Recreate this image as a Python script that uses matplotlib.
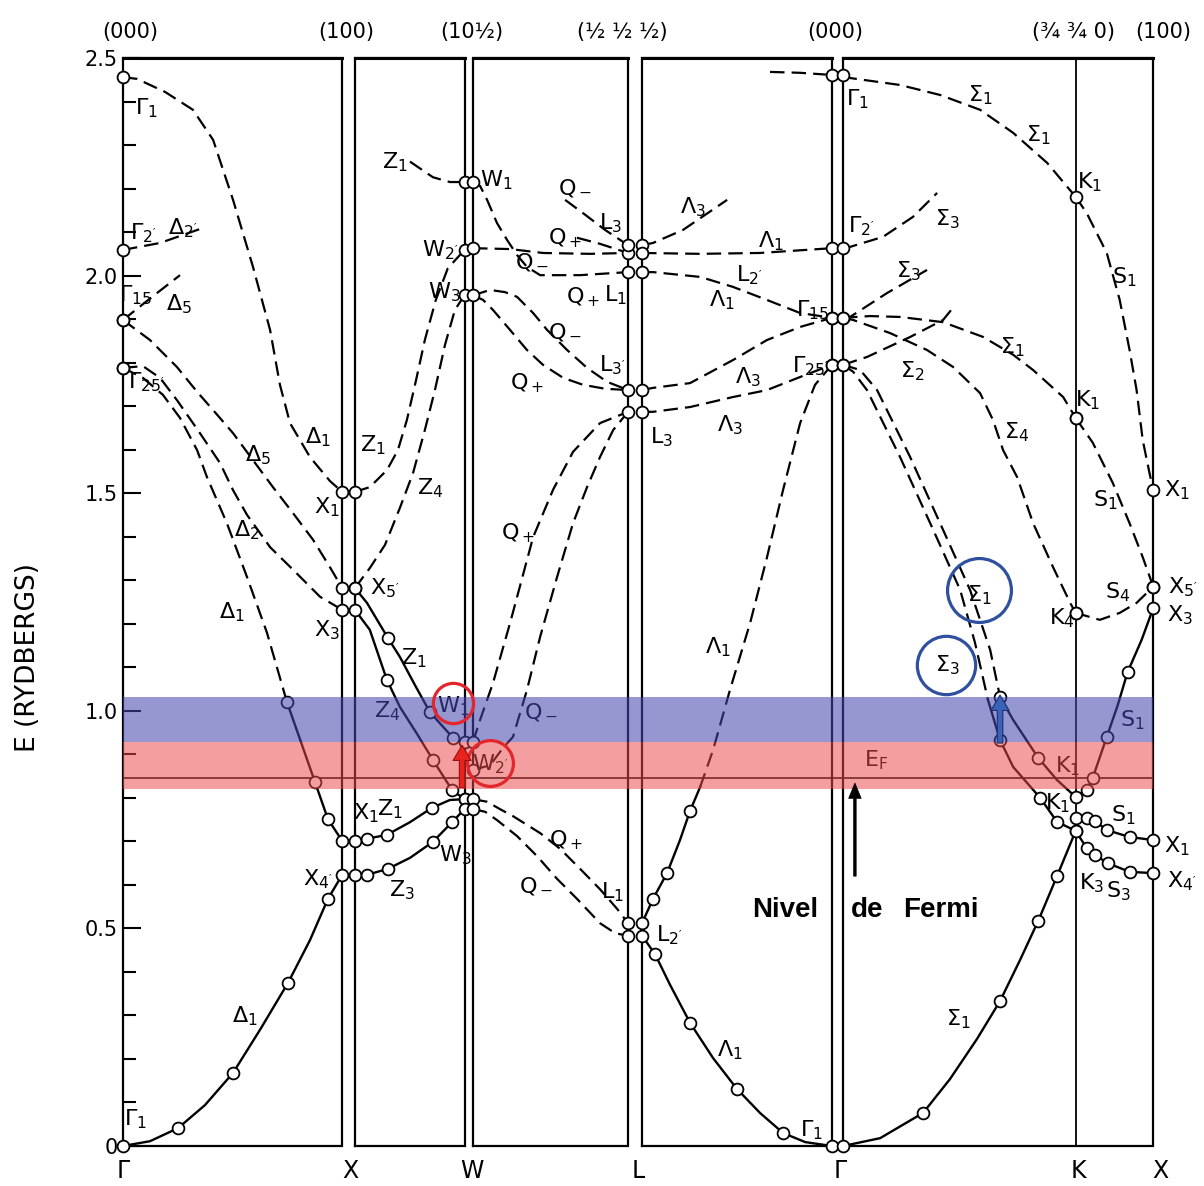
import numpy as np
import matplotlib
matplotlib.use('Agg')
import matplotlib.pyplot as plt

plt.rcParams['font.family'] = ['DejaVu Sans']
plt.rcParams['mathtext.default'] = 'regular'

# k-path panels (units of 2pi/a): Gamma-X, X-W, W-L, L-Gamma, Gamma-K-X
panel_start = [0.0, 1.058, 1.597, 2.368, 3.285]
panel_len = [1.0, 0.5, 0.707, 0.866, 1.415]
k_K = 1.061

# energy ranges (Ry)
band_blue = (0.928, 1.032)
band_red = (0.820, 0.928)
e_fermi = 0.846

# ---- Gamma - X ----
g_d1_hi = ([0, 0.064, 0.192, 0.319, 0.411, 0.502, 0.593, 0.671, 0.716, 0.762, 0.853, 0.944, 1.0],
           [2.456, 2.452, 2.422, 2.381, 2.312, 2.174, 2.020, 1.875, 1.749, 1.661, 1.583, 1.528, 1.503])
g_d2p = ([0, 0.169, 0.351], [2.059, 2.075, 2.107])
g_d5_stub = ([0, 0.13, 0.26], [1.898, 1.95, 2.001])
g_d5 = ([0, 0.123, 0.246, 0.338, 0.411, 0.502, 0.593, 0.684, 0.776, 0.867, 0.944, 1.0],
        [1.898, 1.852, 1.790, 1.733, 1.691, 1.638, 1.576, 1.514, 1.454, 1.393, 1.330, 1.282])
g_d2 = ([0, 0.091, 0.169, 0.246, 0.351, 0.443, 0.502, 0.566, 0.671, 0.776, 0.899, 1.0],
        [1.788, 1.792, 1.765, 1.714, 1.638, 1.569, 1.507, 1.450, 1.376, 1.324, 1.262, 1.232])
g_d1_d = ([0, 0.091, 0.182, 0.260, 0.338, 0.383, 0.474, 0.566, 0.657, 0.748],
          [1.788, 1.765, 1.726, 1.673, 1.599, 1.537, 1.431, 1.307, 1.179, 1.020])
g_d1_s = ([0.748, 0.876, 0.935, 1.0], [1.020, 0.836, 0.751, 0.701])
g_d1_lo = ([0, 0.123, 0.251, 0.374, 0.502, 0.625, 0.753, 0.853, 0.935, 1.0],
           [0, 0.011, 0.041, 0.094, 0.168, 0.267, 0.375, 0.473, 0.568, 0.623])

# ---- X - W ----
xw_z1_stub = ([0.251, 0.356, 0.433, 0.5], [2.262, 2.226, 2.215, 2.215])
xw_z1 = ([0, 0.068, 0.146, 0.196, 0.237, 0.279, 0.319, 0.369, 0.424, 0.5],
         [1.503, 1.514, 1.553, 1.599, 1.668, 1.760, 1.852, 1.944, 2.017, 2.059])
xw_z4 = ([0, 0.068, 0.137, 0.205, 0.265, 0.319, 0.365, 0.411, 0.456, 0.5],
         [1.282, 1.328, 1.381, 1.466, 1.546, 1.645, 1.737, 1.841, 1.921, 1.955])
xw_z1a = ([0, 0.055, 0.151, 0.205, 0.274, 0.342, 0.447, 0.5],
          [1.282, 1.248, 1.167, 1.124, 1.059, 0.997, 0.938, 0.929])
xw_z4a = ([0, 0.068, 0.146, 0.205, 0.287, 0.356, 0.443, 0.5],
          [1.232, 1.186, 1.071, 1.009, 0.944, 0.887, 0.818, 0.797])
xw_z1b = ([0, 0.055, 0.146, 0.251, 0.351, 0.433, 0.5],
          [0.701, 0.706, 0.715, 0.744, 0.777, 0.795, 0.797])
xw_z3 = ([0, 0.055, 0.151, 0.251, 0.356, 0.443, 0.5],
         [0.623, 0.623, 0.637, 0.662, 0.699, 0.744, 0.774])

# ---- W - L ----
wl_q_w1 = ([0, 0.032, 0.064, 0.109, 0.155, 0.201, 0.246, 0.306, 0.488, 0.707],
           [2.215, 2.206, 2.174, 2.121, 2.082, 2.047, 2.020, 2.001, 2.001, 2.008])
wl_q_w2 = ([0, 0.169, 0.319, 0.534, 0.707], [2.063, 2.061, 2.052, 2.050, 2.052])
wl_qm_stub = ([0.420, 0.511, 0.602, 0.707], [2.174, 2.140, 2.105, 2.070])
wl_qp_stub = ([0.474, 0.579, 0.707], [2.087, 2.073, 2.052])
wl_qm_w3 = ([0, 0.078, 0.146, 0.201, 0.274, 0.338, 0.429, 0.520, 0.611, 0.707],
            [1.955, 1.967, 1.962, 1.951, 1.914, 1.875, 1.829, 1.788, 1.756, 1.737])
wl_qp_w3 = ([0, 0.046, 0.091, 0.169, 0.246, 0.319, 0.411, 0.502, 0.602, 0.707],
            [1.955, 1.944, 1.921, 1.875, 1.829, 1.795, 1.765, 1.749, 1.740, 1.737])
wl_qp_up = ([0, 0.032, 0.091, 0.169, 0.274, 0.365, 0.456, 0.579, 0.707],
            [0.929, 0.979, 1.064, 1.202, 1.399, 1.508, 1.595, 1.661, 1.687])
wl_qm_up = ([0, 0.078, 0.137, 0.182, 0.246, 0.306, 0.383, 0.456, 0.520, 0.579, 0.639, 0.707],
            [0.864, 0.875, 0.915, 0.940, 1.048, 1.170, 1.307, 1.431, 1.514, 1.583, 1.645, 1.687])
wl_qp_dn = ([0, 0.064, 0.123, 0.182, 0.306, 0.397, 0.488, 0.579, 0.657, 0.707],
            [0.797, 0.791, 0.774, 0.758, 0.719, 0.683, 0.637, 0.590, 0.545, 0.512])
wl_qm_dn = ([0, 0.055, 0.109, 0.201, 0.292, 0.383, 0.474, 0.579, 0.648, 0.707],
            [0.774, 0.768, 0.749, 0.712, 0.666, 0.614, 0.568, 0.512, 0.489, 0.483])

# ---- L - Gamma ----
lg_l3_stub = ([0, 0.050, 0.187, 0.388], [2.070, 2.075, 2.105, 2.174])
lg_l1_flat = ([0, 0.265, 0.538, 0.866], [2.052, 2.050, 2.052, 2.063])
lg_l1_g15 = ([0, 0.050, 0.265, 0.415, 0.570, 0.721, 0.866],
             [2.008, 2.008, 1.997, 1.974, 1.944, 1.914, 1.903])
lg_l3p_g15 = ([0, 0.050, 0.219, 0.415, 0.570, 0.721, 0.866],
              [1.737, 1.742, 1.753, 1.806, 1.852, 1.882, 1.903])
lg_l3_g25 = ([0, 0.050, 0.219, 0.415, 0.570, 0.721, 0.866],
             [1.687, 1.687, 1.698, 1.721, 1.737, 1.767, 1.795])
lg_lam1_s = ([0, 0.050, 0.114, 0.173, 0.219, 0.265], [0.512, 0.568, 0.627, 0.703, 0.770, 0.825])
lg_lam1_d = ([0.265, 0.324, 0.401, 0.493, 0.570, 0.643, 0.721, 0.789, 0.866],
             [0.825, 0.910, 1.048, 1.202, 1.353, 1.507, 1.661, 1.749, 1.795])
lg_lam1_lo = ([0, 0.059, 0.128, 0.219, 0.324, 0.433, 0.538, 0.643, 0.744, 0.866],
              [0.483, 0.441, 0.370, 0.283, 0.202, 0.131, 0.076, 0.030, 0.009, 0])
lg_g1_stub = ([0.584, 0.721, 0.866], [2.468, 2.466, 2.461])

# ---- Gamma - K - X ----
gk_s1_top = ([0, 0.032, 0.260, 0.443, 0.625, 0.776, 0.931, 1.061],
             [2.461, 2.454, 2.438, 2.415, 2.381, 2.328, 2.259, 2.181])
kx_s1_top = ([1.061, 1.111, 1.203, 1.262, 1.307, 1.339, 1.367, 1.398, 1.415],
             [2.181, 2.144, 2.052, 1.944, 1.829, 1.737, 1.622, 1.546, 1.507])
gk_s3_a = ([0, 0.032, 0.182, 0.319, 0.429], [2.063, 2.066, 2.089, 2.135, 2.190])
gk_s3_b = ([0, 0.032, 0.201, 0.383], [1.903, 1.905, 1.960, 2.013])
gk_s1_mid = ([0, 0.123, 0.260, 0.456, 0.639, 0.776, 0.867, 1.004, 1.061],
             [1.903, 1.907, 1.905, 1.893, 1.859, 1.818, 1.783, 1.721, 1.673])
gk_s4 = ([0, 0.046, 0.214, 0.383, 0.502, 0.625, 0.684, 0.730, 0.794, 0.867, 0.958, 1.036, 1.061],
         [1.903, 1.898, 1.868, 1.829, 1.790, 1.730, 1.668, 1.599, 1.537, 1.431, 1.330, 1.248, 1.225])
gk_s2 = ([0, 0.109, 0.306, 0.456, 0.511], [1.795, 1.813, 1.859, 1.898, 1.932])
gk_s3_d = ([0, 0.046, 0.109, 0.260, 0.411, 0.534, 0.602, 0.661],
           [1.795, 1.779, 1.737, 1.583, 1.416, 1.278, 1.156, 1.025])
gk_s3_s = ([0.661, 0.716, 0.776, 0.899, 0.976, 1.061], [1.025, 0.933, 0.871, 0.800, 0.745, 0.724])
gk_s1_d = ([0, 0.078, 0.155, 0.306, 0.456, 0.579, 0.671, 0.716],
           [1.795, 1.783, 1.737, 1.583, 1.416, 1.278, 1.140, 1.032])
gk_s1_s = ([0.716, 0.776, 0.890, 0.976, 1.061], [1.032, 0.979, 0.892, 0.841, 0.802])
kx_s1_up = ([1.061, 1.111, 1.139, 1.203, 1.253, 1.298, 1.362, 1.415],
            [0.802, 0.818, 0.846, 0.940, 1.013, 1.089, 1.163, 1.236])
gk_s1_lo = ([0, 0.169, 0.365, 0.488, 0.611, 0.716, 0.807, 0.890, 0.976, 1.061],
            [0, 0.018, 0.076, 0.154, 0.246, 0.333, 0.427, 0.517, 0.620, 0.724])
kx_s1_lo = ([1.061, 1.111, 1.148, 1.203, 1.307, 1.415], [0.754, 0.754, 0.747, 0.726, 0.710, 0.703])
kx_s3 = ([1.061, 1.111, 1.148, 1.207, 1.307, 1.415], [0.724, 0.685, 0.669, 0.650, 0.630, 0.627])
kx_s4 = ([1.061, 1.171, 1.262, 1.339, 1.415], [1.225, 1.209, 1.225, 1.248, 1.285])
kx_s1_mid = ([1.061, 1.139, 1.230, 1.307, 1.367, 1.415], [1.673, 1.616, 1.524, 1.431, 1.353, 1.285])

# (panel, curve, dashed?, indices with open circles)
curves = [
    (0, g_d1_hi, True, [0, -1]), (0, g_d2p, True, [0]), (0, g_d5_stub, True, [0]),
    (0, g_d5, True, [0, -1]), (0, g_d2, True, [0, -1]), (0, g_d1_d, True, [0]),
    (0, g_d1_s, False, [0, 1, 2, 3]), (0, g_d1_lo, False, [0, 2, 4, 6, 8, 9]),
    (1, xw_z1_stub, True, [-1]), (1, xw_z1, True, [0, -1]), (1, xw_z4, True, [0, -1]),
    (1, xw_z1a, False, [0, 2, 5, 6, 7]), (1, xw_z4a, False, [0, 2, 5, 6, 7]),
    (1, xw_z1b, False, [0, 1, 2, 4, 6]), (1, xw_z3, False, [0, 1, 2, 4, 5, 6]),
    (2, wl_q_w1, True, [0, -1]), (2, wl_q_w2, True, [0, -1]), (2, wl_qm_stub, True, [-1]),
    (2, wl_qp_stub, True, []), (2, wl_qm_w3, True, [0, -1]), (2, wl_qp_w3, True, []),
    (2, wl_qp_up, True, [0, -1]), (2, wl_qm_up, True, [0]),
    (2, wl_qp_dn, True, [0, -1]), (2, wl_qm_dn, True, [0, -1]),
    (3, lg_l3_stub, True, [0]), (3, lg_l1_flat, True, [0, -1]), (3, lg_l1_g15, True, [0, -1]),
    (3, lg_l3p_g15, True, [0, -1]), (3, lg_l3_g25, True, [0, -1]),
    (3, lg_lam1_s, False, [0, 1, 2, 4]), (3, lg_lam1_d, True, [-1]),
    (3, lg_lam1_lo, False, [0, 1, 3, 5, 7, 9]), (3, lg_g1_stub, True, [-1]),
    (4, gk_s1_top, True, [0, -1]), (4, kx_s1_top, True, [-1]), (4, gk_s3_a, True, [0]),
    (4, gk_s3_b, True, [0]), (4, gk_s1_mid, True, [0, -1]), (4, gk_s4, True, [-1]),
    (4, gk_s2, True, [0]), (4, gk_s3_d, True, [0]), (4, gk_s3_s, False, [1, 3, 4, 5]),
    (4, gk_s1_d, True, []), (4, gk_s1_s, False, [0, 2, 4]),
    (4, kx_s1_up, False, [1, 2, 3, 5, 7]), (4, gk_s1_lo, False, [0, 2, 5, 7, 8, 9]),
    (4, kx_s1_lo, False, [0, 1, 2, 3, 4, 5]), (4, kx_s3, False, [1, 2, 3, 4, 5]),
    (4, kx_s4, True, [0, -1]), (4, kx_s1_mid, True, [0, -1]),
]

# symmetry labels: (text, x along path, E)
labels = [
    (r'$\Gamma_1$', 0.109, 2.385), (r"$\Gamma_{2'}$", 0.091, 2.098), (r"$\Delta_{2'}$", 0.274, 2.109),
    (r'$\Gamma_{15}$', 0.059, 1.955), (r'$\Delta_5$', 0.255, 1.935), (r"$\Gamma_{25'}$", 0.105, 1.756),
    (r'$\Delta_1$', 0.890, 1.629), (r'$X_1$', 0.931, 1.468), (r'$\Delta_5$', 0.616, 1.588),
    (r'$\Delta_2$', 0.566, 1.415), (r'$\Delta_1$', 0.497, 1.227), (r'$X_3$', 0.931, 1.186),
    (r'$\Delta_1$', 0.557, 0.299), (r'$\Gamma_1$', 0.055, 0.062), (r"$X_{4'}$", 0.890, 0.614),
    (r'$Z_1$', 1.141, 1.611), (r"$X_{5'}$", 1.195, 1.282), (r'$Z_4$', 1.401, 1.512),
    (r'$Z_1$', 1.241, 2.261), (r'$W_1$', 1.702, 2.220), (r"$W_{2'}$", 1.446, 2.059),
    (r'$W_3$', 1.464, 1.962), (r'$Z_1$', 1.328, 1.121), (r'$Z_4$', 1.204, 1.000),
    (r'$W_1$', 1.505, 1.011), (r"$W_{2'}$", 1.674, 0.877), (r'$X_1$', 1.108, 0.765),
    (r'$Z_1$', 1.218, 0.774), (r'$Z_3$', 1.273, 0.588), (r'$W_3$', 1.515, 0.669),
    (r'$Q_-$', 2.062, 2.201), (r'$L_3$', 2.222, 2.121), (r'$Q_+$', 2.016, 2.087),
    (r'$Q_-$', 1.866, 2.031), (r'$Q_+$', 2.098, 1.951), (r'$L_1$', 2.249, 1.955),
    (r'$Q_-$', 2.016, 1.870), (r"$L_{3'}$", 2.231, 1.795), (r'$Q_+$', 1.843, 1.753),
    (r'$Q_+$', 1.802, 1.409), (r'$Q_-$', 1.907, 0.997), (r'$Q_+$', 2.021, 0.703),
    (r'$Q_-$', 1.884, 0.597), (r'$L_1$', 2.235, 0.584), (r'$L_3$', 2.459, 1.629),
    (r'$\Lambda_3$', 2.600, 2.158), (r'$\Lambda_1$', 2.956, 2.080), (r"$L_{2'}$", 2.860, 2.001),
    (r'$\Lambda_1$', 2.733, 1.944), (r'$\Lambda_3$', 2.851, 1.767), (r'$\Lambda_3$', 2.769, 1.657),
    (r'$\Lambda_1$', 2.714, 1.147), (r"$L_{2'}$", 2.495, 0.485), (r'$\Lambda_1$', 2.769, 0.221),
    (r'$\Gamma_1$', 3.143, 0.037), (r"$\Gamma_{25'}$", 3.134, 1.792), (r'$\Gamma_{15}$', 3.148, 1.921),
    (r"$\Gamma_{2'}$", 3.371, 2.114), (r'$\Gamma_1$', 3.353, 2.406), (r'$E_F$', 3.435, 0.887),
    (r'$\Sigma_1$', 3.910, 2.415), (r'$\Sigma_1$', 4.174, 2.323), (r'$K_1$', 4.411, 2.215),
    (r'$S_1$', 4.567, 1.997), (r'$\Sigma_3$', 3.759, 2.130), (r'$\Sigma_3$', 3.581, 2.011),
    (r'$\Sigma_1$', 4.056, 1.836), (r'$\Sigma_2$', 3.599, 1.781), (r'$K_1$', 4.402, 1.714),
    (r'$\Sigma_4$', 4.078, 1.641), (r'$S_1$', 4.480, 1.484), (r'$X_1$', 4.808, 1.507),
    (r'$S_4$', 4.539, 1.273), (r"$X_{5'}$", 4.836, 1.284), (r'$K_4$', 4.284, 1.213),
    (r'$X_3$', 4.822, 1.220), (r'$S_1$', 4.603, 0.979), (r'$K_1$', 4.311, 0.873),
    (r'$K_1$', 4.265, 0.788), (r'$S_1$', 4.562, 0.761), (r'$X_1$', 4.808, 0.689),
    (r'$K_3$', 4.421, 0.604), (r'$S_3$', 4.539, 0.586), (r"$X_{4'}$", 4.831, 0.609),
    (r'$\Sigma_1$', 3.809, 0.292), (r'$\Sigma_1$', 3.905, 1.265), (r'$\Sigma_3$', 3.759, 1.105),
]

top_labels = ['(000)', '(100)', '(10½)', '(½ ½ ½)', '(000)', '(¾ ¾ 0)', '(100)']
top_x = [0.032, 1.017, 1.592, 2.276, 3.248, 4.338, 4.745]
bottom_labels = ['Γ', 'X', 'W', 'L', 'Γ', 'K', 'X']
bottom_x = [0.0, 1.036, 1.592, 2.350, 3.271, 4.357, 4.731]

fig = plt.figure(figsize=(12.04, 11.86), dpi=100)
ax = fig.add_axes([123 / 1204, 1 - 1146 / 1186, 1032 / 1204, 1088 / 1186])
ax.set_xlim(0, 4.708)
ax.set_ylim(0, 2.5)
for s in ax.spines.values():
    s.set_visible(False)

# panel boxes
for p in range(5):
    x0, L = panel_start[p], panel_len[p]
    ax.plot([x0, x0 + L, x0 + L, x0, x0], [0, 0, 2.5, 2.5, 0], color='k', lw=1.6,
            clip_on=False, zorder=2, solid_joinstyle='miter')
    ax.plot([x0, x0 + L], [2.5, 2.5], color='k', lw=2.2, clip_on=False, zorder=2)
xk = panel_start[4] + k_K
ax.plot([xk, xk], [0, 2.5], color='k', lw=1.3, zorder=2)

for p, (k, e), dashed, marks in curves:
    x = panel_start[p] + np.asarray(k, dtype=float)
    e = np.asarray(e, dtype=float)
    if dashed:
        ax.plot(x, e, color='k', lw=1.6, dashes=(6.5, 3.2), zorder=3, clip_on=False)
    else:
        ax.plot(x, e, color='k', lw=1.7, zorder=3, clip_on=False)
    if marks:
        ax.plot(x[marks], e[marks], 'o', ms=8.5, mfc='white', mec='k', mew=1.3,
                zorder=4, clip_on=False)

for t, x, y in labels:
    ax.text(x, y, t, fontsize=16, ha='center', va='center', zorder=4)

xend = panel_start[4] + panel_len[4]
ax.plot([0, xend], [e_fermi, e_fermi], color='k', lw=1.2, zorder=3)
ax.fill_between([0, xend], band_blue[0], band_blue[1], color='#4646af', alpha=0.57, lw=0, zorder=5)
ax.fill_between([0, xend], band_red[0], band_red[1], color='#ec4b4b', alpha=0.53, lw=0, zorder=5)

# highlights
ax.plot([1.505], [1.018], 'o', ms=29, mfc='none', mec='#e3262b', mew=2.3, zorder=8)
ax.plot([1.674], [0.880], 'o', ms=33, mfc='none', mec='#e3262b', mew=2.3, zorder=8)
ax.plot([3.905], [1.278], 'o', ms=46, mfc='none', mec='#2f4f9f', mew=2.3, zorder=8)
ax.plot([3.754], [1.105], 'o', ms=42, mfc='none', mec='#2f4f9f', mew=2.3, zorder=8)
ax.annotate('', xy=(1.547, 0.921), xytext=(1.547, 0.823), zorder=9,
            arrowprops=dict(facecolor='#e8231e', edgecolor='#9a1010', width=4, headwidth=13,
                            headlength=11, lw=0.8))
ax.annotate('', xy=(4.001, 1.036), xytext=(4.001, 0.926), zorder=9,
            arrowprops=dict(facecolor='#3a62b8', edgecolor='#1c2f6e', width=4, headwidth=13,
                            headlength=11, lw=0.8))
ax.annotate('', xy=(3.339, 0.834), xytext=(3.339, 0.620), zorder=9,
            arrowprops=dict(facecolor='k', edgecolor='k', width=1.8, headwidth=9,
                            headlength=11, lw=0.5))
bold = dict(fontsize=20, fontweight='bold', family=['Liberation Sans', 'DejaVu Sans'],
            va='center', ha='left', zorder=9)
ax.text(2.869, 0.542, 'Nivel', **bold)
ax.text(3.321, 0.542, 'de', **bold)
ax.text(3.558, 0.542, 'Fermi', **bold)

# axes text
for t, x in zip(top_labels, top_x):
    ax.text(x, 2.56, t, fontsize=15, ha='center', va='center')
for t, x in zip(bottom_labels, bottom_x):
    ax.text(x, -0.058, t, fontsize=17, ha='center', va='center')

ax.set_xticks([])
ax.set_yticks(np.arange(0, 2.51, 0.5))
ax.set_yticklabels(['0', '0.5', '1.0', '1.5', '2.0', '2.5'], fontsize=15)
ax.set_yticks(np.arange(0, 2.51, 0.1), minor=True)
ax.tick_params(axis='y', which='major', direction='in', length=13, width=1.5, pad=4)
ax.tick_params(axis='y', which='minor', direction='in', length=9.5, width=1.5)
fig.text(0.0233, 0.446, 'E (RYDBERGS)', rotation=90, ha='center', va='center', fontsize=19)

fig.savefig('out.png', dpi=100)
